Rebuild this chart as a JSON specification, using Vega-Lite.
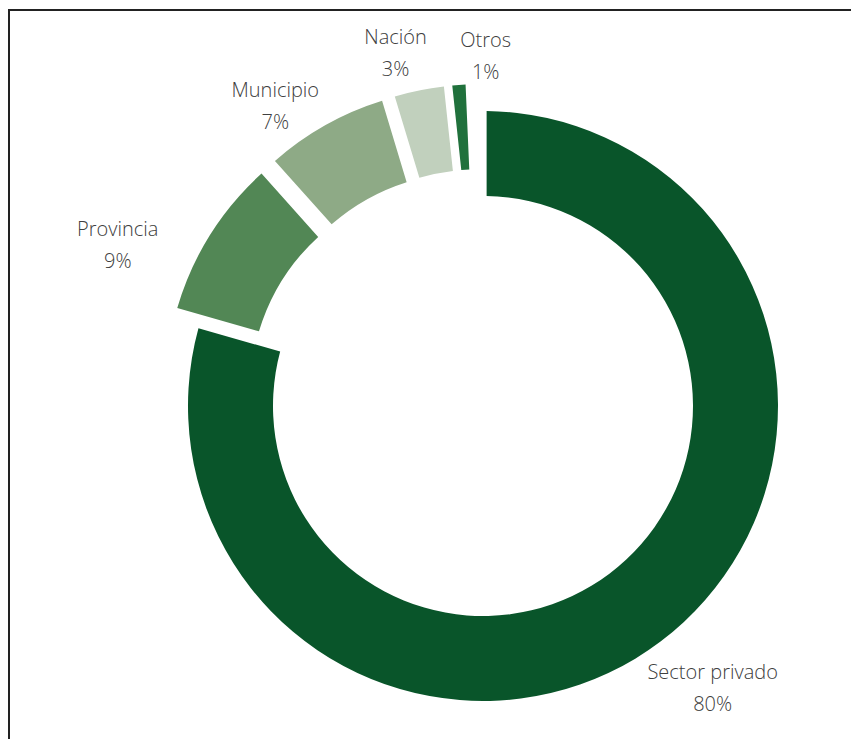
{
  "$schema": "https://vega.github.io/schema/vega-lite/v6.json",
  "autosize": "none",
  "width": 948,
  "height": 792,
  "padding": {"left": 9, "top": 10, "right": 0, "bottom": 0},
  "background": "white",
  "config": {
    "view": {"stroke": "#222222", "strokeWidth": 2},
    "text": {"font": "Open Sans", "fontSize": 20, "fontWeight": 300, "fill": "#404040"}
  },
  "data": {
    "values": [
      {"label": "Sector privado", "value": 80},
      {"label": "Provincia", "value": 9},
      {"label": "Municipio", "value": 7},
      {"label": "Nación", "value": 3},
      {"label": "Otros", "value": 1}
    ]
  },
  "transform": [
    {"calculate": "[datum.label, datum.value + '%']", "as": "lbl"}
  ],
  "encoding": {
    "theta": {"field": "value", "type": "quantitative", "stack": true, "scale": {"domain": [0, 100.7]}},
    "order": {"field": "value", "type": "quantitative", "sort": "descending"}
  },
  "layer": [
    {
      "mark": {"type": "rule", "opacity": 0},
      "encoding": {"x": {"datum": 0, "type": "quantitative", "axis": null}}
    },
    {
      "mark": {"type": "arc", "radius": 295, "radius2": 210, "padAngle": 0.02},
      "encoding": {
        "color": {
          "field": "label", "type": "nominal", "legend": null,
          "scale": {
            "domain": ["Sector privado", "Provincia", "Municipio", "Nación", "Otros"],
            "range": ["#09552a", "#528755", "#8eaa86", "#c1d0bd", "#20713c"]
          }
        },
        "opacity": {"condition": {"test": "datum.label === 'Sector privado'", "value": 1}, "value": 0}
      }
    },
    {
      "mark": {
        "type": "arc", "radius": 295, "radius2": 210, "padAngle": 0.014,
        "xOffset": {"expr": "27 * sin(scale('theta', (datum.value_start + datum.value_end) / 2))"},
        "yOffset": {"expr": "-27 * cos(scale('theta', (datum.value_start + datum.value_end) / 2))"}
      },
      "encoding": {
        "color": {"field": "label", "type": "nominal", "legend": null},
        "opacity": {"condition": {"test": "datum.label !== 'Sector privado'", "value": 1}, "value": 0}
      }
    },
    {
      "mark": {"type": "text", "radius": 365, "align": "center", "baseline": "middle", "lineHeight": 32, "dx": 10, "dy": -24},
      "encoding": {
        "text": {"condition": {"test": "datum.label === 'Sector privado'", "field": "lbl"}, "value": ""}
      }
    },
    {
      "mark": {"type": "text", "radius": 365, "align": "center", "baseline": "middle", "lineHeight": 32, "dx": -56, "dy": 18},
      "encoding": {
        "text": {"condition": {"test": "datum.label === 'Provincia'", "field": "lbl"}, "value": ""}
      }
    },
    {
      "mark": {"type": "text", "radius": 365, "align": "center", "baseline": "middle", "lineHeight": 32, "dx": -29, "dy": 3},
      "encoding": {
        "text": {"condition": {"test": "datum.label === 'Municipio'", "field": "lbl"}, "value": ""}
      }
    },
    {
      "mark": {"type": "text", "radius": 365, "align": "center", "baseline": "middle", "lineHeight": 32, "dx": -15, "dy": -10},
      "encoding": {
        "text": {"condition": {"test": "datum.label === 'Nación'", "field": "lbl"}, "value": ""}
      }
    },
    {
      "mark": {"type": "text", "radius": 365, "align": "center", "baseline": "middle", "lineHeight": 32, "dx": 30, "dy": -1},
      "encoding": {
        "text": {"condition": {"test": "datum.label === 'Otros'", "field": "lbl"}, "value": ""}
      }
    }
  ]
}
